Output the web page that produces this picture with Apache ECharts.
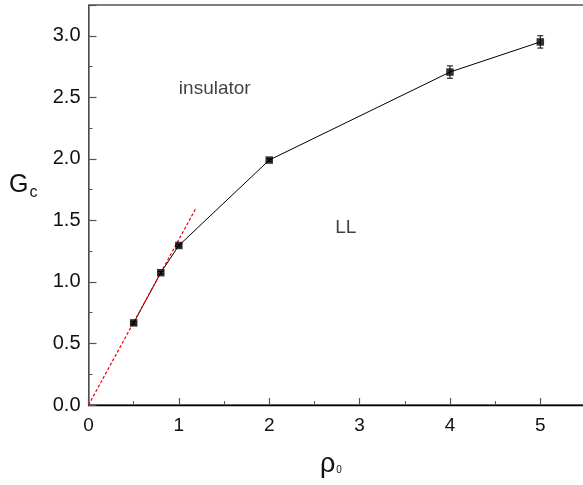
<!DOCTYPE html>
<html>
<head>
<meta charset="utf-8">
<script src="https://cdn.jsdelivr.net/npm/echarts@6/dist/echarts.min.js"></script>
<style>html,body{margin:0;padding:0;background:#fff}#c{width:583px;height:485px}</style>
</head>
<body>
<div id="c"></div>
<script>
var rho = [0.5, 0.8, 1.0, 2.0, 4.0, 5.0];
var gc = [0.667, 1.075, 1.296, 1.99, 2.705, 2.95];
var gcErr = [0.01, 0.01, 0.01, 0.01, 0.05, 0.05];
var fitX = [0, 1.19];
var fitY = [0, 1.60];
var xTicks = [0, 1, 2, 3, 4, 5];
var yTicks = [0.0, 0.5, 1.0, 1.5, 2.0, 2.5, 3.0];
var regionLabels = [
  {name: 'insulator', x: 1.0, y: 2.57},
  {name: 'LL', x: 2.73, y: 1.44}
];

var font = '"Liberation Sans", Arial, sans-serif';
var chart = echarts.init(document.getElementById('c'), null, {renderer: 'canvas'});

var mainData = rho.map(function (x, i) { return [x, gc[i]]; });
var errData = rho.map(function (x, i) { return [x, gc[i] - gcErr[i], gc[i] + gcErr[i]]; });
var fitData = fitX.map(function (x, i) { return [x, fitY[i]]; });

chart.setOption({
  animation: false,
  backgroundColor: '#fff',
  grid: {left: 88.5, width: 497, top: 5, height: 400, outerBoundsMode: 'none', containLabel: false,
    show: true, borderColor: '#000', borderWidth: 1, backgroundColor: 'transparent'},
  xAxis: {
    type: 'value', min: 0, max: 5.5, interval: 1,
    axisLine: {show: true, onZero: false, lineStyle: {color: '#000', width: 1.3}},
    axisTick: {show: true, inside: true, length: 7, lineStyle: {color: '#555', width: 1.2}},
    minorTick: {show: true, splitNumber: 2, length: 4, lineStyle: {color: '#555', width: 1}},
    splitLine: {show: false},
    axisLabel: {
      margin: 11, fontSize: 19, color: '#111', fontFamily: font,
      formatter: function (v) { return xTicks.indexOf(v) >= 0 ? String(v) : ''; }
    }
  },
  yAxis: {
    type: 'value', min: 0, max: 3.25, interval: 0.5,
    axisLine: {show: true, onZero: false, lineStyle: {color: '#666', width: 1.5}},
    axisTick: {show: true, inside: true, length: 8, lineStyle: {color: '#555', width: 1.2}},
    minorTick: {show: true, splitNumber: 2, length: 4, lineStyle: {color: '#555', width: 1}},
    splitLine: {show: false},
    axisLabel: {
      margin: 8, fontSize: 20, color: '#111', fontFamily: font,
      formatter: function (v) {
        for (var i = 0; i < yTicks.length; i++) { if (Math.abs(yTicks[i] - v) < 1e-9) return yTicks[i].toFixed(1); }
        return '';
      }
    }
  },
  graphic: [
    {type: 'text', left: 9, top: 173, style: {text: '{a|G}{b|c}', rich: {
      a: {fontSize: 25, fontFamily: font, fill: '#111'},
      b: {fontSize: 16, fontFamily: font, fill: '#111', padding: [14, 0, 0, 1]}
    }}},
    {type: 'text', left: 320, top: 451, style: {text: '{a|ρ}{b|0}', rich: {
      a: {fontSize: 27, fontFamily: font, fill: '#111'},
      b: {fontSize: 10, fontFamily: font, fill: '#111', padding: [12, 0, 0, 1]}
    }}}
  ],
  series: [
    {
      type: 'line', data: mainData, symbol: 'none',
      lineStyle: {color: '#000', width: 1}, z: 2
    },
    {
      type: 'line', data: fitData, symbol: 'none',
      lineStyle: {color: '#e8000b', width: 1.2, type: [3, 2]}, z: 3
    },
    {
      type: 'custom', data: errData, z: 4,
      renderItem: function (params, api) {
        var x = api.value(0);
        var lo = api.coord([x, api.value(1)]);
        var hi = api.coord([x, api.value(2)]);
        var w = 3;
        var st = {stroke: '#000', lineWidth: 1};
        return {type: 'group', children: [
          {type: 'line', shape: {x1: lo[0], y1: lo[1], x2: hi[0], y2: hi[1]}, style: st},
          {type: 'line', shape: {x1: lo[0] - w, y1: lo[1], x2: lo[0] + w, y2: lo[1]}, style: st},
          {type: 'line', shape: {x1: hi[0] - w, y1: hi[1], x2: hi[0] + w, y2: hi[1]}, style: st}
        ]};
      }
    },
    {
      type: 'scatter', data: mainData, symbol: 'rect', symbolSize: 7.5,
      itemStyle: {color: '#000'}, z: 5
    },
    {
      type: 'scatter', symbolSize: 0, z: 6,
      data: regionLabels.map(function (r) { return {name: r.name, value: [r.x, r.y]}; }),
      label: {show: true, position: 'right', distance: 0, formatter: '{b}', fontSize: 19, color: '#111', fontFamily: font}
    }
  ]
});
</script>
</body>
</html>
